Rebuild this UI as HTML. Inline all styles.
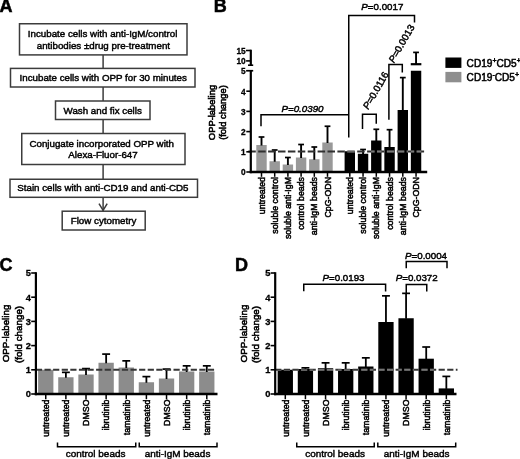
<!DOCTYPE html>
<html><head><meta charset="utf-8"><title>Figure</title>
<style>
html,body{margin:0;padding:0;background:#fff;}
body{width:520px;height:459px;overflow:hidden;font-family:"Liberation Sans",sans-serif;}
svg{display:block;filter:grayscale(1);}
text{font-family:"Liberation Sans",sans-serif;}
</style></head><body>
<svg width="520" height="459" viewBox="0 0 520 459">
<rect width="520" height="459" fill="#fff"/>
<text x="-0.6" y="12.2" font-size="18" text-anchor="start" font-weight="bold" font-style="normal" fill="#000" stroke="#000" stroke-width="0.5" >A</text>
<text x="213.8" y="12.2" font-size="18" text-anchor="start" font-weight="bold" font-style="normal" fill="#000" stroke="#000" stroke-width="0.5" >B</text>
<text x="-0.4" y="270.8" font-size="18" text-anchor="start" font-weight="bold" font-style="normal" fill="#000" stroke="#000" stroke-width="0.5" >C</text>
<text x="235.1" y="270.8" font-size="18" text-anchor="start" font-weight="bold" font-style="normal" fill="#000" stroke="#000" stroke-width="0.5" >D</text>
<rect x="19.5" y="23.75" width="167.5" height="31.15" fill="#fff" stroke="#3c3c3c" stroke-width="1.5"/>
<rect x="10.5" y="68.4" width="184.5" height="18.599999999999994" fill="#fff" stroke="#3c3c3c" stroke-width="1.5"/>
<rect x="55.5" y="101" width="94.5" height="18.5" fill="#fff" stroke="#3c3c3c" stroke-width="1.5"/>
<rect x="21.75" y="133.5" width="163.25" height="31.0" fill="#fff" stroke="#3c3c3c" stroke-width="1.5"/>
<rect x="10" y="179.25" width="187.5" height="18.05000000000001" fill="#fff" stroke="#3c3c3c" stroke-width="1.5"/>
<rect x="62.2" y="211.2" width="82.99999999999999" height="18.80000000000001" fill="#fff" stroke="#3c3c3c" stroke-width="1.5"/>
<line x1="103.1" y1="54.9" x2="103.1" y2="68.4" stroke="#3c3c3c" stroke-width="1.5" />
<line x1="103.1" y1="87" x2="103.1" y2="101" stroke="#3c3c3c" stroke-width="1.5" />
<line x1="103.1" y1="119.5" x2="103.1" y2="133.5" stroke="#3c3c3c" stroke-width="1.5" />
<line x1="103.1" y1="164.5" x2="103.1" y2="179.25" stroke="#3c3c3c" stroke-width="1.5" />
<line x1="103.1" y1="197.3" x2="103.1" y2="211.2" stroke="#3c3c3c" stroke-width="1.5" />
<polyline points="99.0,203.6 103.1,210.4 107.2,203.6" fill="none" stroke="#3c3c3c" stroke-width="1.5" stroke-linejoin="miter"/>
<text x="102.6" y="36.5" font-size="9.75" text-anchor="middle" font-weight="normal" font-style="normal" fill="#000" stroke="#000" stroke-width="0.45" >Incubate cells with anti-IgM/control</text>
<text x="103.4" y="48.8" font-size="9.75" text-anchor="middle" font-weight="normal" font-style="normal" fill="#000" stroke="#000" stroke-width="0.45" >antibodies ±drug pre-treatment</text>
<text x="103.2" y="81.1" font-size="9.75" text-anchor="middle" font-weight="normal" font-style="normal" fill="#000" stroke="#000" stroke-width="0.45" >Incubate cells with OPP for 30 minutes</text>
<text x="102.7" y="113.6" font-size="9.75" text-anchor="middle" font-weight="normal" font-style="normal" fill="#000" stroke="#000" stroke-width="0.45" >Wash and fix cells</text>
<text x="101.7" y="146.5" font-size="9.75" text-anchor="middle" font-weight="normal" font-style="normal" fill="#000" stroke="#000" stroke-width="0.45" >Conjugate incorporated OPP with</text>
<text x="103" y="158.3" font-size="9.75" text-anchor="middle" font-weight="normal" font-style="normal" fill="#000" stroke="#000" stroke-width="0.45" >Alexa-Fluor-647</text>
<text x="102.9" y="191.2" font-size="9.75" text-anchor="middle" font-weight="normal" font-style="normal" fill="#000" stroke="#000" stroke-width="0.45" >Stain cells with anti-CD19 and anti-CD5</text>
<text x="103.5" y="223.8" font-size="9.75" text-anchor="middle" font-weight="normal" font-style="normal" fill="#000" stroke="#000" stroke-width="0.45" >Flow cytometry</text>
<rect x="256.3" y="145" width="10.4" height="27.0" fill="#999999"/>
<line x1="261.5" y1="145.5" x2="261.5" y2="137" stroke="#000" stroke-width="1.9" />
<line x1="258.6" y1="137" x2="264.4" y2="137" stroke="#000" stroke-width="1.7" />
<rect x="269.5" y="161.25" width="10.4" height="10.75" fill="#999999"/>
<line x1="274.7" y1="161.75" x2="274.7" y2="150" stroke="#000" stroke-width="1.9" />
<line x1="271.8" y1="150" x2="277.59999999999997" y2="150" stroke="#000" stroke-width="1.7" />
<rect x="282.7" y="164.5" width="10.4" height="7.5" fill="#999999"/>
<line x1="287.9" y1="165.0" x2="287.9" y2="157.5" stroke="#000" stroke-width="1.9" />
<line x1="285.0" y1="157.5" x2="290.79999999999995" y2="157.5" stroke="#000" stroke-width="1.7" />
<rect x="295.90000000000003" y="157.5" width="10.4" height="14.5" fill="#999999"/>
<line x1="301.1" y1="158.0" x2="301.1" y2="144.5" stroke="#000" stroke-width="1.9" />
<line x1="298.20000000000005" y1="144.5" x2="304.0" y2="144.5" stroke="#000" stroke-width="1.7" />
<rect x="309.1" y="159.25" width="10.4" height="12.75" fill="#999999"/>
<line x1="314.3" y1="159.75" x2="314.3" y2="147" stroke="#000" stroke-width="1.9" />
<line x1="311.40000000000003" y1="147" x2="317.2" y2="147" stroke="#000" stroke-width="1.7" />
<rect x="322.3" y="142.5" width="10.4" height="29.5" fill="#999999"/>
<line x1="327.5" y1="143.0" x2="327.5" y2="126.25" stroke="#000" stroke-width="1.9" />
<line x1="324.6" y1="126.25" x2="330.4" y2="126.25" stroke="#000" stroke-width="1.7" />
<rect x="344.6" y="151.25" width="10.4" height="20.75" fill="#000"/>
<rect x="357.85" y="153.75" width="10.4" height="18.25" fill="#000"/>
<line x1="363.05" y1="154.25" x2="363.05" y2="149.5" stroke="#000" stroke-width="1.9" />
<line x1="360.15000000000003" y1="149.5" x2="365.95" y2="149.5" stroke="#000" stroke-width="1.7" />
<rect x="371.1" y="140.5" width="10.4" height="31.5" fill="#000"/>
<line x1="376.3" y1="141.0" x2="376.3" y2="129.3" stroke="#000" stroke-width="1.9" />
<line x1="373.40000000000003" y1="129.3" x2="379.2" y2="129.3" stroke="#000" stroke-width="1.7" />
<rect x="384.35" y="147" width="10.4" height="25.0" fill="#000"/>
<line x1="389.55" y1="147.5" x2="389.55" y2="129.7" stroke="#000" stroke-width="1.9" />
<line x1="386.65000000000003" y1="129.7" x2="392.45" y2="129.7" stroke="#000" stroke-width="1.7" />
<rect x="397.6" y="110" width="10.4" height="62.0" fill="#000"/>
<line x1="402.8" y1="110.5" x2="402.8" y2="77.6" stroke="#000" stroke-width="1.9" />
<line x1="399.90000000000003" y1="77.6" x2="405.7" y2="77.6" stroke="#000" stroke-width="1.7" />
<rect x="410.85" y="70.75" width="10.4" height="101.25" fill="#000"/>
<line x1="416.05" y1="52.4" x2="416.05" y2="64.5" stroke="#000" stroke-width="1.9" />
<line x1="413.15000000000003" y1="52.4" x2="418.95" y2="52.4" stroke="#000" stroke-width="1.7" />
<line x1="410.75" y1="64.2" x2="421.35" y2="64.2" stroke="#000" stroke-width="2.2" />
<path d="M248.3,151.5 H424.4" fill="none" stroke="#303030" stroke-width="2.1" stroke-dasharray="7.5 2.4"/>
<clipPath id="cpB"><rect x="344.6" y="151.25" width="10.4" height="20.75"/><rect x="357.85" y="153.75" width="10.4" height="18.25"/><rect x="371.1" y="140.5" width="10.4" height="31.5"/><rect x="384.35" y="147" width="10.4" height="25.0"/><rect x="397.6" y="110" width="10.4" height="62.0"/><rect x="410.85" y="70.75" width="10.4" height="101.25"/></clipPath>
<path d="M248.3,151.5 H424.4" fill="none" stroke="#787878" stroke-width="2.1" stroke-dasharray="7.5 2.4" clip-path="url(#cpB)"/>
<line x1="250.8" y1="70.75" x2="250.8" y2="173.2" stroke="#000" stroke-width="2.2" />
<line x1="249.70000000000002" y1="172.0" x2="427.2" y2="172.0" stroke="#000" stroke-width="2.4" />
<line x1="250.8" y1="49.7" x2="250.8" y2="66" stroke="#000" stroke-width="2.2" />
<line x1="246.3" y1="172.0" x2="250.8" y2="172.0" stroke="#000" stroke-width="1.6" />
<line x1="246.3" y1="151.8" x2="250.8" y2="151.8" stroke="#000" stroke-width="1.6" />
<line x1="246.3" y1="131.6" x2="250.8" y2="131.6" stroke="#000" stroke-width="1.6" />
<line x1="246.3" y1="111.4" x2="250.8" y2="111.4" stroke="#000" stroke-width="1.6" />
<line x1="246.3" y1="91.2" x2="250.8" y2="91.2" stroke="#000" stroke-width="1.6" />
<line x1="246.10000000000002" y1="70.75" x2="253.20000000000002" y2="70.75" stroke="#000" stroke-width="1.7" />
<line x1="245.9" y1="50.5" x2="250.8" y2="50.5" stroke="#000" stroke-width="1.6" />
<line x1="246.10000000000002" y1="60.9" x2="250.8" y2="60.9" stroke="#000" stroke-width="1.6" />
<line x1="248.0" y1="65.2" x2="253.20000000000002" y2="65.2" stroke="#000" stroke-width="1.6" />
<text x="245.7" y="175.4" font-size="8.3" text-anchor="end" font-weight="bold" font-style="normal" fill="#000" stroke="#000" stroke-width="0.3" >0</text>
<text x="245.7" y="155.20000000000002" font-size="8.3" text-anchor="end" font-weight="bold" font-style="normal" fill="#000" stroke="#000" stroke-width="0.3" >1</text>
<text x="245.7" y="135.0" font-size="8.3" text-anchor="end" font-weight="bold" font-style="normal" fill="#000" stroke="#000" stroke-width="0.3" >2</text>
<text x="245.7" y="114.80000000000001" font-size="8.3" text-anchor="end" font-weight="bold" font-style="normal" fill="#000" stroke="#000" stroke-width="0.3" >3</text>
<text x="245.7" y="94.60000000000001" font-size="8.3" text-anchor="end" font-weight="bold" font-style="normal" fill="#000" stroke="#000" stroke-width="0.3" >4</text>
<text x="245.7" y="74.25" font-size="8.3" text-anchor="end" font-weight="bold" font-style="normal" fill="#000" stroke="#000" stroke-width="0.3" >5</text>
<text x="245.7" y="64.1" font-size="8.3" text-anchor="end" font-weight="bold" font-style="normal" fill="#000" stroke="#000" stroke-width="0.3" >10</text>
<text x="245.7" y="54.300000000000004" font-size="8.3" text-anchor="end" font-weight="bold" font-style="normal" fill="#000" stroke="#000" stroke-width="0.3" >15</text>
<line x1="261.5" y1="172.0" x2="261.5" y2="176.8" stroke="#000" stroke-width="1.5" />
<line x1="274.7" y1="172.0" x2="274.7" y2="176.8" stroke="#000" stroke-width="1.5" />
<line x1="287.9" y1="172.0" x2="287.9" y2="176.8" stroke="#000" stroke-width="1.5" />
<line x1="301.1" y1="172.0" x2="301.1" y2="176.8" stroke="#000" stroke-width="1.5" />
<line x1="314.3" y1="172.0" x2="314.3" y2="176.8" stroke="#000" stroke-width="1.5" />
<line x1="327.5" y1="172.0" x2="327.5" y2="176.8" stroke="#000" stroke-width="1.5" />
<line x1="349.8" y1="172.0" x2="349.8" y2="176.8" stroke="#000" stroke-width="1.5" />
<line x1="363.05" y1="172.0" x2="363.05" y2="176.8" stroke="#000" stroke-width="1.5" />
<line x1="376.3" y1="172.0" x2="376.3" y2="176.8" stroke="#000" stroke-width="1.5" />
<line x1="389.55" y1="172.0" x2="389.55" y2="176.8" stroke="#000" stroke-width="1.5" />
<line x1="402.8" y1="172.0" x2="402.8" y2="176.8" stroke="#000" stroke-width="1.5" />
<line x1="416.05" y1="172.0" x2="416.05" y2="176.8" stroke="#000" stroke-width="1.5" />
<text x="214.8" y="112.5" font-size="9.4" text-anchor="middle" font-weight="normal" font-style="normal" fill="#000" stroke="#000" stroke-width="0.55" transform="rotate(-90 214.8 112.5)" >OPP-labeling</text>
<text x="226.2" y="112.5" font-size="9.4" text-anchor="middle" font-weight="normal" font-style="normal" fill="#000" stroke="#000" stroke-width="0.55" transform="rotate(-90 226.2 112.5)" >(fold change)</text>
<text x="264.6" y="177" font-size="8.8" text-anchor="end" font-weight="normal" font-style="normal" fill="#000" stroke="#000" stroke-width="0.5" transform="rotate(-90 264.6 177)" >untreated</text>
<text x="277.8" y="177" font-size="8.8" text-anchor="end" font-weight="normal" font-style="normal" fill="#000" stroke="#000" stroke-width="0.5" transform="rotate(-90 277.8 177)" >soluble control</text>
<text x="291.0" y="177" font-size="8.8" text-anchor="end" font-weight="normal" font-style="normal" fill="#000" stroke="#000" stroke-width="0.5" transform="rotate(-90 291.0 177)" >soluble anti-IgM</text>
<text x="304.20000000000005" y="177" font-size="8.8" text-anchor="end" font-weight="normal" font-style="normal" fill="#000" stroke="#000" stroke-width="0.5" transform="rotate(-90 304.20000000000005 177)" >control beads</text>
<text x="317.40000000000003" y="177" font-size="8.8" text-anchor="end" font-weight="normal" font-style="normal" fill="#000" stroke="#000" stroke-width="0.5" transform="rotate(-90 317.40000000000003 177)" >anti-IgM beads</text>
<text x="330.6" y="177" font-size="8.8" text-anchor="end" font-weight="normal" font-style="normal" fill="#000" stroke="#000" stroke-width="0.5" transform="rotate(-90 330.6 177)" >CpG-ODN</text>
<text x="352.90000000000003" y="177" font-size="8.8" text-anchor="end" font-weight="normal" font-style="normal" fill="#000" stroke="#000" stroke-width="0.5" transform="rotate(-90 352.90000000000003 177)" >untreated</text>
<text x="366.15000000000003" y="177" font-size="8.8" text-anchor="end" font-weight="normal" font-style="normal" fill="#000" stroke="#000" stroke-width="0.5" transform="rotate(-90 366.15000000000003 177)" >soluble control</text>
<text x="379.40000000000003" y="177" font-size="8.8" text-anchor="end" font-weight="normal" font-style="normal" fill="#000" stroke="#000" stroke-width="0.5" transform="rotate(-90 379.40000000000003 177)" >soluble anti-IgM</text>
<text x="392.65000000000003" y="177" font-size="8.8" text-anchor="end" font-weight="normal" font-style="normal" fill="#000" stroke="#000" stroke-width="0.5" transform="rotate(-90 392.65000000000003 177)" >control beads</text>
<text x="405.90000000000003" y="177" font-size="8.8" text-anchor="end" font-weight="normal" font-style="normal" fill="#000" stroke="#000" stroke-width="0.5" transform="rotate(-90 405.90000000000003 177)" >anti-IgM beads</text>
<text x="419.15000000000003" y="177" font-size="8.8" text-anchor="end" font-weight="normal" font-style="normal" fill="#000" stroke="#000" stroke-width="0.5" transform="rotate(-90 419.15000000000003 177)" >CpG-ODN</text>
<polyline points="261,126.25 261,114.7 348.75,114.7" fill="none" stroke="#000" stroke-width="1.5" stroke-linejoin="miter"/>
<polyline points="348.75,137.5 348.75,15.5 414.5,15.5 414.5,22.5" fill="none" stroke="#000" stroke-width="1.5" stroke-linejoin="miter"/>
<polyline points="362.5,129.0 362.5,114.2 376.25,114.2 376.25,123.75" fill="none" stroke="#000" stroke-width="1.5" stroke-linejoin="miter"/>
<polyline points="388.9,119.8 388.9,64.5 402.3,64.5 402.3,72.5" fill="none" stroke="#000" stroke-width="1.5" stroke-linejoin="miter"/>
<text x="281.5" y="112" font-size="9.75" text-anchor="start" font-weight="normal" font-style="italic" fill="#000" stroke="#000" stroke-width="0.45" >P=0.0390</text>
<text x="361.3" y="9.6" font-size="9.75" text-anchor="start" font-weight="normal" font-style="normal" fill="#000" stroke="#000" stroke-width="0.45" ><tspan font-style="italic">P</tspan>=0.0017</text>
<text x="368.3" y="110" font-size="9.75" text-anchor="start" font-weight="normal" font-style="normal" fill="#000" stroke="#000" stroke-width="0.45" transform="rotate(-60 368.3 110)" ><tspan font-style="italic">P</tspan>=0.0116</text>
<text x="393.9" y="63.5" font-size="9.75" text-anchor="start" font-weight="normal" font-style="normal" fill="#000" stroke="#000" stroke-width="0.45" transform="rotate(-60 393.9 63.5)" ><tspan font-style="italic">P</tspan>=0.0013</text>
<rect x="445.4" y="57.5" width="16" height="10.4" fill="#000"/>
<rect x="445.4" y="71.9" width="16" height="10.4" fill="#8e8e8e"/>
<text x="466.6" y="66.9" font-size="10.1" text-anchor="start" font-weight="normal" font-style="normal" fill="#000" stroke="#000" stroke-width="0.5" >CD19<tspan font-size="7" dy="-4.2">+</tspan><tspan dy="4.2">CD5</tspan><tspan font-size="7" dy="-4.2">+</tspan></text>
<text x="466.6" y="81.2" font-size="10.1" text-anchor="start" font-weight="normal" font-style="normal" fill="#000" stroke="#000" stroke-width="0.5" >CD19<tspan font-size="7" dy="-4.2">-</tspan><tspan dy="4.2">CD5</tspan><tspan font-size="7" dy="-4.2">+</tspan></text>
<rect x="38.1" y="369.75" width="15.3" height="24.25" fill="#8c8c8c"/>
<rect x="58.23" y="377.25" width="15.3" height="16.75" fill="#8c8c8c"/>
<line x1="65.88" y1="377.75" x2="65.88" y2="372.35" stroke="#000" stroke-width="1.8" />
<line x1="61.92999999999999" y1="372.35" x2="69.83" y2="372.35" stroke="#000" stroke-width="1.7" />
<rect x="78.35999999999999" y="374.5" width="15.3" height="19.5" fill="#8c8c8c"/>
<line x1="86.00999999999999" y1="375.0" x2="86.00999999999999" y2="368.6" stroke="#000" stroke-width="1.8" />
<line x1="82.05999999999999" y1="368.6" x2="89.96" y2="368.6" stroke="#000" stroke-width="1.7" />
<rect x="98.49" y="362.75" width="15.3" height="31.25" fill="#8c8c8c"/>
<line x1="106.14" y1="363.25" x2="106.14" y2="354.1" stroke="#000" stroke-width="1.8" />
<line x1="102.19" y1="354.1" x2="110.09" y2="354.1" stroke="#000" stroke-width="1.7" />
<rect x="118.61999999999999" y="367.5" width="15.3" height="26.5" fill="#8c8c8c"/>
<line x1="126.27" y1="368.0" x2="126.27" y2="360.85" stroke="#000" stroke-width="1.8" />
<line x1="122.32" y1="360.85" x2="130.22" y2="360.85" stroke="#000" stroke-width="1.7" />
<rect x="138.74999999999997" y="382.25" width="15.3" height="11.75" fill="#8c8c8c"/>
<line x1="146.39999999999998" y1="382.75" x2="146.39999999999998" y2="376.6" stroke="#000" stroke-width="1.8" />
<line x1="142.45" y1="376.6" x2="150.34999999999997" y2="376.6" stroke="#000" stroke-width="1.7" />
<rect x="158.88" y="378.5" width="15.3" height="15.5" fill="#8c8c8c"/>
<line x1="166.53" y1="379.0" x2="166.53" y2="369.1" stroke="#000" stroke-width="1.8" />
<line x1="162.58" y1="369.1" x2="170.48" y2="369.1" stroke="#000" stroke-width="1.7" />
<rect x="179.01" y="371.5" width="15.3" height="22.5" fill="#8c8c8c"/>
<line x1="186.66" y1="372.0" x2="186.66" y2="365.85" stroke="#000" stroke-width="1.8" />
<line x1="182.71" y1="365.85" x2="190.60999999999999" y2="365.85" stroke="#000" stroke-width="1.7" />
<rect x="199.14" y="371.5" width="15.3" height="22.5" fill="#8c8c8c"/>
<line x1="206.79" y1="372.0" x2="206.79" y2="365.85" stroke="#000" stroke-width="1.8" />
<line x1="202.84" y1="365.85" x2="210.73999999999998" y2="365.85" stroke="#000" stroke-width="1.7" />
<line x1="35.9" y1="369.8" x2="214.5" y2="369.8" stroke="#363636" stroke-width="2.0" stroke-dasharray="6.2 2.4"/>
<line x1="35.9" y1="272.2" x2="35.9" y2="395.2" stroke="#000" stroke-width="2.2" />
<line x1="34.8" y1="394.0" x2="217.5" y2="394.0" stroke="#000" stroke-width="2.4" />
<line x1="31.2" y1="394.0" x2="35.9" y2="394.0" stroke="#000" stroke-width="1.6" />
<text x="31.0" y="397.4" font-size="9.3" text-anchor="end" font-weight="bold" font-style="normal" fill="#000" stroke="#000" stroke-width="0.3" >0</text>
<line x1="31.2" y1="369.8" x2="35.9" y2="369.8" stroke="#000" stroke-width="1.6" />
<text x="31.0" y="373.2" font-size="9.3" text-anchor="end" font-weight="bold" font-style="normal" fill="#000" stroke="#000" stroke-width="0.3" >1</text>
<line x1="31.2" y1="345.6" x2="35.9" y2="345.6" stroke="#000" stroke-width="1.6" />
<text x="31.0" y="349.0" font-size="9.3" text-anchor="end" font-weight="bold" font-style="normal" fill="#000" stroke="#000" stroke-width="0.3" >2</text>
<line x1="31.2" y1="321.4" x2="35.9" y2="321.4" stroke="#000" stroke-width="1.6" />
<text x="31.0" y="324.79999999999995" font-size="9.3" text-anchor="end" font-weight="bold" font-style="normal" fill="#000" stroke="#000" stroke-width="0.3" >3</text>
<line x1="31.2" y1="297.2" x2="35.9" y2="297.2" stroke="#000" stroke-width="1.6" />
<text x="31.0" y="300.59999999999997" font-size="9.3" text-anchor="end" font-weight="bold" font-style="normal" fill="#000" stroke="#000" stroke-width="0.3" >4</text>
<line x1="31.2" y1="273.0" x2="35.9" y2="273.0" stroke="#000" stroke-width="1.6" />
<text x="31.0" y="276.4" font-size="9.3" text-anchor="end" font-weight="bold" font-style="normal" fill="#000" stroke="#000" stroke-width="0.3" >5</text>
<line x1="45.75" y1="394.0" x2="45.75" y2="399.2" stroke="#000" stroke-width="1.5" />
<line x1="65.88" y1="394.0" x2="65.88" y2="399.2" stroke="#000" stroke-width="1.5" />
<line x1="86.00999999999999" y1="394.0" x2="86.00999999999999" y2="399.2" stroke="#000" stroke-width="1.5" />
<line x1="106.14" y1="394.0" x2="106.14" y2="399.2" stroke="#000" stroke-width="1.5" />
<line x1="126.27" y1="394.0" x2="126.27" y2="399.2" stroke="#000" stroke-width="1.5" />
<line x1="146.39999999999998" y1="394.0" x2="146.39999999999998" y2="399.2" stroke="#000" stroke-width="1.5" />
<line x1="166.53" y1="394.0" x2="166.53" y2="399.2" stroke="#000" stroke-width="1.5" />
<line x1="186.66" y1="394.0" x2="186.66" y2="399.2" stroke="#000" stroke-width="1.5" />
<line x1="206.79" y1="394.0" x2="206.79" y2="399.2" stroke="#000" stroke-width="1.5" />
<text x="9.3" y="333.5" font-size="9.8" text-anchor="middle" font-weight="normal" font-style="normal" fill="#000" stroke="#000" stroke-width="0.55" transform="rotate(-90 9.3 333.5)" >OPP-labeling</text>
<text x="21.7" y="334.5" font-size="9.8" text-anchor="middle" font-weight="normal" font-style="normal" fill="#000" stroke="#000" stroke-width="0.55" transform="rotate(-90 21.7 334.5)" >(fold change)</text>
<text x="49.05" y="399.5" font-size="8.8" text-anchor="end" font-weight="normal" font-style="normal" fill="#000" stroke="#000" stroke-width="0.5" transform="rotate(-90 49.05 399.5)" >untreated</text>
<text x="69.17999999999999" y="399.5" font-size="8.8" text-anchor="end" font-weight="normal" font-style="normal" fill="#000" stroke="#000" stroke-width="0.5" transform="rotate(-90 69.17999999999999 399.5)" >untreated</text>
<text x="89.30999999999999" y="399.5" font-size="8.8" text-anchor="end" font-weight="normal" font-style="normal" fill="#000" stroke="#000" stroke-width="0.5" transform="rotate(-90 89.30999999999999 399.5)" >DMSO</text>
<text x="109.44" y="399.5" font-size="8.8" text-anchor="end" font-weight="normal" font-style="normal" fill="#000" stroke="#000" stroke-width="0.5" transform="rotate(-90 109.44 399.5)" >ibrutinib</text>
<text x="129.57" y="399.5" font-size="8.8" text-anchor="end" font-weight="normal" font-style="normal" fill="#000" stroke="#000" stroke-width="0.5" transform="rotate(-90 129.57 399.5)" >tamatinib</text>
<text x="149.7" y="399.5" font-size="8.8" text-anchor="end" font-weight="normal" font-style="normal" fill="#000" stroke="#000" stroke-width="0.5" transform="rotate(-90 149.7 399.5)" >untreated</text>
<text x="169.83" y="399.5" font-size="8.8" text-anchor="end" font-weight="normal" font-style="normal" fill="#000" stroke="#000" stroke-width="0.5" transform="rotate(-90 169.83 399.5)" >DMSO</text>
<text x="189.96" y="399.5" font-size="8.8" text-anchor="end" font-weight="normal" font-style="normal" fill="#000" stroke="#000" stroke-width="0.5" transform="rotate(-90 189.96 399.5)" >ibrutinib</text>
<text x="210.09" y="399.5" font-size="8.8" text-anchor="end" font-weight="normal" font-style="normal" fill="#000" stroke="#000" stroke-width="0.5" transform="rotate(-90 210.09 399.5)" >tamatinib</text>
<polyline points="57.5,442.5 57.5,446.8 135.75,446.8 135.75,442.5" fill="none" stroke="#000" stroke-width="1.5" stroke-linejoin="miter"/>
<polyline points="139.25,442.5 139.25,446.8 217,446.8 217,442.5" fill="none" stroke="#000" stroke-width="1.5" stroke-linejoin="miter"/>
<text x="95.6" y="456.6" font-size="9.95" text-anchor="middle" font-weight="normal" font-style="normal" fill="#000" stroke="#000" stroke-width="0.45" >control beads</text>
<text x="177.5" y="456.6" font-size="9.95" text-anchor="middle" font-weight="normal" font-style="normal" fill="#000" stroke="#000" stroke-width="0.45" >anti-IgM beads</text>
<rect x="277.65000000000003" y="369.75" width="15.3" height="24.25" fill="#000"/>
<rect x="297.78000000000003" y="369.0" width="15.3" height="25.0" fill="#000"/>
<line x1="305.43" y1="369.5" x2="305.43" y2="367.85" stroke="#000" stroke-width="1.8" />
<line x1="301.48" y1="367.85" x2="309.38" y2="367.85" stroke="#000" stroke-width="1.7" />
<rect x="317.91" y="368.25" width="15.3" height="25.75" fill="#000"/>
<line x1="325.56" y1="368.75" x2="325.56" y2="362.85" stroke="#000" stroke-width="1.8" />
<line x1="321.61" y1="362.85" x2="329.51" y2="362.85" stroke="#000" stroke-width="1.7" />
<rect x="338.04" y="369.0" width="15.3" height="25.0" fill="#000"/>
<line x1="345.69" y1="369.5" x2="345.69" y2="362.85" stroke="#000" stroke-width="1.8" />
<line x1="341.74" y1="362.85" x2="349.64" y2="362.85" stroke="#000" stroke-width="1.7" />
<rect x="358.17" y="366.5" width="15.3" height="27.5" fill="#000"/>
<line x1="365.82" y1="367.0" x2="365.82" y2="357.85" stroke="#000" stroke-width="1.8" />
<line x1="361.87" y1="357.85" x2="369.77" y2="357.85" stroke="#000" stroke-width="1.7" />
<rect x="378.3" y="322.0" width="15.3" height="72.0" fill="#000"/>
<line x1="385.95" y1="322.5" x2="385.95" y2="295.85" stroke="#000" stroke-width="1.8" />
<line x1="382.0" y1="295.85" x2="389.9" y2="295.85" stroke="#000" stroke-width="1.7" />
<rect x="398.43000000000006" y="318.25" width="15.3" height="75.75" fill="#000"/>
<line x1="406.08000000000004" y1="318.75" x2="406.08000000000004" y2="293.35" stroke="#000" stroke-width="1.8" />
<line x1="402.13000000000005" y1="293.35" x2="410.03000000000003" y2="293.35" stroke="#000" stroke-width="1.7" />
<rect x="418.56000000000006" y="358.7" width="15.3" height="35.30000000000001" fill="#000"/>
<line x1="426.21000000000004" y1="359.2" x2="426.21000000000004" y2="347.0" stroke="#000" stroke-width="1.8" />
<line x1="422.26000000000005" y1="347.0" x2="430.16" y2="347.0" stroke="#000" stroke-width="1.7" />
<rect x="438.69000000000005" y="388.4" width="15.3" height="5.600000000000023" fill="#000"/>
<line x1="446.34000000000003" y1="388.9" x2="446.34000000000003" y2="376.40000000000003" stroke="#000" stroke-width="1.8" />
<line x1="442.39000000000004" y1="376.40000000000003" x2="450.29" y2="376.40000000000003" stroke="#000" stroke-width="1.7" />
<line x1="275.2" y1="369.8" x2="457.5" y2="369.8" stroke="#363636" stroke-width="2.0" stroke-dasharray="6.2 2.4"/>
<clipPath id="cpD"><rect x="277.65000000000003" y="370.25" width="15.3" height="24.25"/><rect x="297.78000000000003" y="369.5" width="15.3" height="25.0"/><rect x="317.91" y="368.75" width="15.3" height="25.75"/><rect x="338.04" y="369.5" width="15.3" height="25.0"/><rect x="358.17" y="367.0" width="15.3" height="27.5"/><rect x="378.3" y="322.5" width="15.3" height="72.0"/><rect x="398.43000000000006" y="318.75" width="15.3" height="75.75"/><rect x="418.56000000000006" y="359.2" width="15.3" height="35.30000000000001"/><rect x="438.69000000000005" y="388.9" width="15.3" height="5.600000000000023"/></clipPath>
<line x1="275.2" y1="369.8" x2="457.5" y2="369.8" stroke="#757575" stroke-width="2.0" stroke-dasharray="6.2 2.4" clip-path="url(#cpD)"/>
<line x1="275.2" y1="272.2" x2="275.2" y2="395.2" stroke="#000" stroke-width="2.2" />
<line x1="274.09999999999997" y1="394.0" x2="456.5" y2="394.0" stroke="#000" stroke-width="2.4" />
<line x1="270.59999999999997" y1="394.0" x2="275.2" y2="394.0" stroke="#000" stroke-width="1.6" />
<text x="270.4" y="397.4" font-size="9.3" text-anchor="end" font-weight="bold" font-style="normal" fill="#000" stroke="#000" stroke-width="0.3" >0</text>
<line x1="270.59999999999997" y1="369.8" x2="275.2" y2="369.8" stroke="#000" stroke-width="1.6" />
<text x="270.4" y="373.2" font-size="9.3" text-anchor="end" font-weight="bold" font-style="normal" fill="#000" stroke="#000" stroke-width="0.3" >1</text>
<line x1="270.59999999999997" y1="345.6" x2="275.2" y2="345.6" stroke="#000" stroke-width="1.6" />
<text x="270.4" y="349.0" font-size="9.3" text-anchor="end" font-weight="bold" font-style="normal" fill="#000" stroke="#000" stroke-width="0.3" >2</text>
<line x1="270.59999999999997" y1="321.4" x2="275.2" y2="321.4" stroke="#000" stroke-width="1.6" />
<text x="270.4" y="324.79999999999995" font-size="9.3" text-anchor="end" font-weight="bold" font-style="normal" fill="#000" stroke="#000" stroke-width="0.3" >3</text>
<line x1="270.59999999999997" y1="297.2" x2="275.2" y2="297.2" stroke="#000" stroke-width="1.6" />
<text x="270.4" y="300.59999999999997" font-size="9.3" text-anchor="end" font-weight="bold" font-style="normal" fill="#000" stroke="#000" stroke-width="0.3" >4</text>
<line x1="270.59999999999997" y1="273.0" x2="275.2" y2="273.0" stroke="#000" stroke-width="1.6" />
<text x="270.4" y="276.4" font-size="9.3" text-anchor="end" font-weight="bold" font-style="normal" fill="#000" stroke="#000" stroke-width="0.3" >5</text>
<line x1="285.3" y1="394.0" x2="285.3" y2="399.2" stroke="#000" stroke-width="1.5" />
<line x1="305.43" y1="394.0" x2="305.43" y2="399.2" stroke="#000" stroke-width="1.5" />
<line x1="325.56" y1="394.0" x2="325.56" y2="399.2" stroke="#000" stroke-width="1.5" />
<line x1="345.69" y1="394.0" x2="345.69" y2="399.2" stroke="#000" stroke-width="1.5" />
<line x1="365.82" y1="394.0" x2="365.82" y2="399.2" stroke="#000" stroke-width="1.5" />
<line x1="385.95" y1="394.0" x2="385.95" y2="399.2" stroke="#000" stroke-width="1.5" />
<line x1="406.08000000000004" y1="394.0" x2="406.08000000000004" y2="399.2" stroke="#000" stroke-width="1.5" />
<line x1="426.21000000000004" y1="394.0" x2="426.21000000000004" y2="399.2" stroke="#000" stroke-width="1.5" />
<line x1="446.34000000000003" y1="394.0" x2="446.34000000000003" y2="399.2" stroke="#000" stroke-width="1.5" />
<text x="247.3" y="333.5" font-size="9.8" text-anchor="middle" font-weight="normal" font-style="normal" fill="#000" stroke="#000" stroke-width="0.55" transform="rotate(-90 247.3 333.5)" >OPP-labeling</text>
<text x="258.9" y="334.5" font-size="9.8" text-anchor="middle" font-weight="normal" font-style="normal" fill="#000" stroke="#000" stroke-width="0.55" transform="rotate(-90 258.9 334.5)" >(fold change)</text>
<text x="288.6" y="399.5" font-size="8.8" text-anchor="end" font-weight="normal" font-style="normal" fill="#000" stroke="#000" stroke-width="0.5" transform="rotate(-90 288.6 399.5)" >untreated</text>
<text x="308.73" y="399.5" font-size="8.8" text-anchor="end" font-weight="normal" font-style="normal" fill="#000" stroke="#000" stroke-width="0.5" transform="rotate(-90 308.73 399.5)" >untreated</text>
<text x="328.86" y="399.5" font-size="8.8" text-anchor="end" font-weight="normal" font-style="normal" fill="#000" stroke="#000" stroke-width="0.5" transform="rotate(-90 328.86 399.5)" >DMSO</text>
<text x="348.99" y="399.5" font-size="8.8" text-anchor="end" font-weight="normal" font-style="normal" fill="#000" stroke="#000" stroke-width="0.5" transform="rotate(-90 348.99 399.5)" >ibrutinib</text>
<text x="369.12" y="399.5" font-size="8.8" text-anchor="end" font-weight="normal" font-style="normal" fill="#000" stroke="#000" stroke-width="0.5" transform="rotate(-90 369.12 399.5)" >tamatinib</text>
<text x="389.25" y="399.5" font-size="8.8" text-anchor="end" font-weight="normal" font-style="normal" fill="#000" stroke="#000" stroke-width="0.5" transform="rotate(-90 389.25 399.5)" >untreated</text>
<text x="409.38000000000005" y="399.5" font-size="8.8" text-anchor="end" font-weight="normal" font-style="normal" fill="#000" stroke="#000" stroke-width="0.5" transform="rotate(-90 409.38000000000005 399.5)" >DMSO</text>
<text x="429.51000000000005" y="399.5" font-size="8.8" text-anchor="end" font-weight="normal" font-style="normal" fill="#000" stroke="#000" stroke-width="0.5" transform="rotate(-90 429.51000000000005 399.5)" >ibrutinib</text>
<text x="449.64000000000004" y="399.5" font-size="8.8" text-anchor="end" font-weight="normal" font-style="normal" fill="#000" stroke="#000" stroke-width="0.5" transform="rotate(-90 449.64000000000004 399.5)" >tamatinib</text>
<polyline points="296.75,442.5 296.75,446.8 374.25,446.8 374.25,442.5" fill="none" stroke="#000" stroke-width="1.5" stroke-linejoin="miter"/>
<polyline points="377.8,442.5 377.8,446.8 455.7,446.8 455.7,442.5" fill="none" stroke="#000" stroke-width="1.5" stroke-linejoin="miter"/>
<text x="335.1" y="456.6" font-size="9.95" text-anchor="middle" font-weight="normal" font-style="normal" fill="#000" stroke="#000" stroke-width="0.45" >control beads</text>
<text x="416.6" y="456.6" font-size="9.95" text-anchor="middle" font-weight="normal" font-style="normal" fill="#000" stroke="#000" stroke-width="0.45" >anti-IgM beads</text>
<polyline points="303.75,291.25 303.75,284.3 385.6,284.3 385.6,291.6" fill="none" stroke="#000" stroke-width="1.5" stroke-linejoin="miter"/>
<polyline points="406.25,293.25 406.25,284.5 426.75,284.5 426.75,291.5" fill="none" stroke="#000" stroke-width="1.5" stroke-linejoin="miter"/>
<polyline points="406.25,268.25 406.25,261.5 447,261.5 447,268.25" fill="none" stroke="#000" stroke-width="1.5" stroke-linejoin="miter"/>
<text x="322.5" y="281.2" font-size="9.75" text-anchor="start" font-weight="normal" font-style="normal" fill="#000" stroke="#000" stroke-width="0.45" ><tspan font-style="italic">P</tspan>=0.0193</text>
<text x="395.7" y="280.7" font-size="9.75" text-anchor="start" font-weight="normal" font-style="normal" fill="#000" stroke="#000" stroke-width="0.45" ><tspan font-style="italic">P</tspan>=0.0372</text>
<text x="405" y="259" font-size="9.75" text-anchor="start" font-weight="normal" font-style="normal" fill="#000" stroke="#000" stroke-width="0.45" ><tspan font-style="italic">P</tspan>=0.0004</text>
</svg>
</body></html>
